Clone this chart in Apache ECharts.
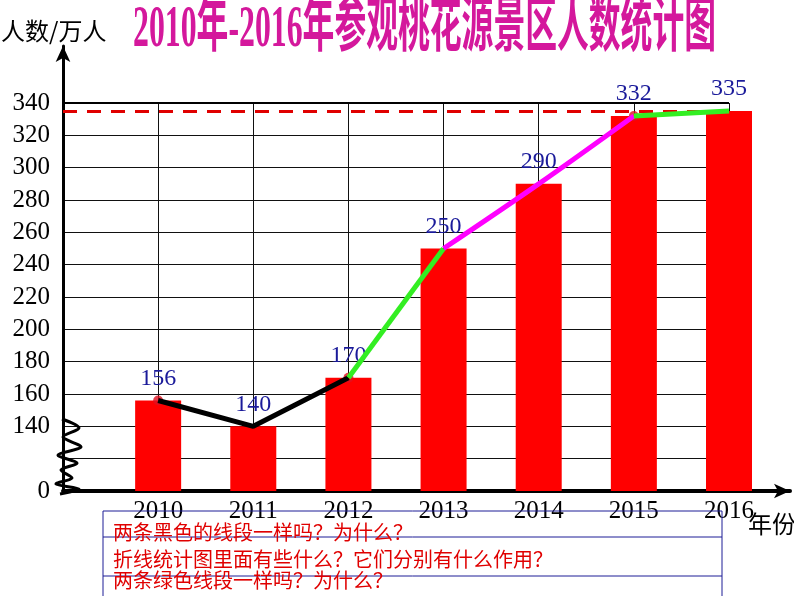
<!DOCTYPE html>
<html>
<head>
<meta charset="utf-8">
<script src="https://cdn.jsdelivr.net/npm/echarts@6/dist/echarts.min.js"></script>
<style>
  html, body { margin: 0; padding: 0; background: #fff; }
  #chart { width: 794px; height: 596px; }
</style>
</head>
<body>
<div id="chart"></div>
<script>
// 数据
var years = ['2010', '2011', '2012', '2013', '2014', '2015', '2016'];
var visitors = [156, 140, 170, 250, 290, 332, 335];
var yTicks = [100, 120, 140, 160, 180, 200, 220, 240, 260, 280, 300, 320, 340];
var refLine = 335;
var questions = [
    '两条黑色的线段一样吗？为什么？',
    '折线统计图里面有些什么？它们分别有什么作用？',
    '两条绿色线段一样吗？为什么？'
];

var dom = document.getElementById('chart');
var myChart = echarts.init(dom, null, { renderer: 'canvas' });

// 第一个空类目用来把 2010 往右挪
var cats = [''].concat(years);
var padded = ['-'].concat(visitors);
var axisBase = yTicks[0];

// 柱子从断轴处（显示为0）开始画：透明底座 + 可见部分叠加
var baseBar = padded.map(function (v) { return v === '-' ? '-' : axisBase; });
var topBar = padded.map(function (v) { return v === '-' ? '-' : v - axisBase; });

// 只保留 a..b 之间的点，其余断开
function seg(a, b) {
    return padded.map(function (v, i) {
        return (i >= a + 1 && i <= b + 1) ? v : '-';
    });
}
var dots = padded.map(function (v, i) {
    return [1, 3, 6].indexOf(i) >= 0 ? v : '-';
});

var serif = '"Liberation Serif", "DejaVu Serif", serif';
var cjk = '"Noto Sans CJK SC", sans-serif';
var boxBlue = '#1c1c96';

var option = {
    animation: false,
    grid: [
        { left: 63, right: 65, top: 103, bottom: 105 },
        { left: 63, right: 4, top: 46, bottom: 105 }
    ],
    xAxis: [{
        type: 'category',
        gridIndex: 0,
        data: cats,
        boundaryGap: false,
        axisLine: { show: false },
        axisTick: { show: false },
        axisLabel: {
            fontFamily: serif,
            fontSize: 25,
            color: '#000',
            margin: 8,
            interval: 0
        },
        splitLine: { show: true, lineStyle: { color: '#111', width: 1 } }
    }, {
        type: 'value',
        gridIndex: 1,
        min: 0,
        max: 1,
        axisLine: {
            show: true,
            onZero: false,
            symbol: ['none', 'arrow'],
            symbolSize: [11, 16],
            lineStyle: { color: '#000', width: 4 }
        },
        axisTick: { show: false },
        axisLabel: { show: false },
        splitLine: { show: false }
    }],
    yAxis: [{
        type: 'value',
        gridIndex: 0,
        min: 100,
        max: 340,
        interval: 20,
        axisLine: { show: false },
        axisTick: { show: false },
        axisLabel: {
            fontFamily: serif,
            fontSize: 25,
            color: '#000',
            margin: 13,
            formatter: function (v) {
                if (v === yTicks[0]) return '0';
                if (v === yTicks[1]) return '';
                return v;
            }
        },
        splitLine: { show: true, lineStyle: { color: '#111', width: 1 } }
    }, {
        type: 'value',
        gridIndex: 1,
        min: 0,
        max: 1,
        axisLine: {
            show: true,
            onZero: false,
            symbol: ['none', 'arrow'],
            symbolSize: [11, 16],
            lineStyle: { color: '#000', width: 3 }
        },
        axisTick: { show: false },
        axisLabel: { show: false },
        splitLine: { show: false }
    }],
    series: [{
        type: 'bar',
        stack: 'v',
        data: baseBar,
        barWidth: 46,
        clip: false,
        silent: true,
        itemStyle: { color: 'rgba(0,0,0,0)' },
        markLine: {
            silent: true,
            symbol: 'none',
            label: { show: false },
            data: [
                { yAxis: yTicks[yTicks.length - 1], lineStyle: { color: '#000', width: 2, type: 'solid' } },
                { yAxis: refLine, lineStyle: { color: '#e00000', width: 3, type: [14, 10] } }
            ]
        }
    }, {
        type: 'bar',
        stack: 'v',
        data: topBar,
        barWidth: 46,
        clip: false,
        itemStyle: { color: '#ff0000' },
        label: {
            show: true,
            position: 'top',
            distance: 10,
            fontFamily: serif,
            fontSize: 24,
            color: '#1a1a9a',
            formatter: function (p) { return padded[p.dataIndex]; }
        }
    }, {
        type: 'line',
        data: seg(0, 2),
        symbol: 'none',
        lineStyle: { color: '#000', width: 5 },
        z: 5
    }, {
        type: 'line',
        data: seg(2, 3),
        symbol: 'none',
        lineStyle: { color: '#33ee22', width: 5 },
        z: 5
    }, {
        type: 'line',
        data: seg(3, 5),
        symbol: 'none',
        smooth: 0.35,
        lineStyle: { color: '#ff00ff', width: 5 },
        z: 5
    }, {
        type: 'line',
        data: seg(5, 6),
        symbol: 'none',
        lineStyle: { color: '#33ee22', width: 5 },
        z: 5
    }, {
        type: 'scatter',
        data: dots,
        symbolSize: 10,
        itemStyle: { color: '#e01020' },
        z: 4
    }],
    graphic: [{
        type: 'text',
        x: 133,
        y: 30,
        scaleX: 0.53,
        style: {
            text: '2010年-2016年参观桃花源景区人数统计图',
            font: 'bold 60px "Liberation Serif", ' + cjk,
            fill: '#d4189c',
            verticalAlign: 'middle',
            shadowColor: '#4a0636',
            shadowOffsetX: 3,
            shadowOffsetY: 3
        }
    }, {
        type: 'text',
        x: 1,
        y: 31,
        style: {
            text: '人数/万人',
            font: '24px ' + cjk,
            fill: '#000',
            verticalAlign: 'middle'
        }
    }, {
        type: 'text',
        x: 748,
        y: 524,
        style: {
            text: '年份',
            font: '24px ' + cjk,
            fill: '#000',
            verticalAlign: 'middle'
        }
    }, {
        // 断轴的折线符号
        type: 'polyline',
        shape: {
            points: [[62, 419], [79, 428], [63, 437], [81, 447], [58, 455], [77, 463],
                     [61, 470], [72, 478], [56, 484], [79, 489], [60, 494]],
            smooth: 0.3
        },
        style: { stroke: '#000', lineWidth: 3, fill: null },
        z: 20
    }, {
        type: 'rect',
        shape: { x: 103, y: 511, width: 619, height: 100 },
        style: { stroke: boxBlue, lineWidth: 1, fill: null },
        z: 30
    }, {
        type: 'line',
        shape: { x1: 103, y1: 537, x2: 722, y2: 537 },
        style: { stroke: boxBlue, lineWidth: 1 },
        z: 30
    }, {
        type: 'line',
        shape: { x1: 103, y1: 576, x2: 722, y2: 576 },
        style: { stroke: boxBlue, lineWidth: 1 },
        z: 30
    }, {
        type: 'text',
        x: 113,
        y: 532,
        style: { text: questions[0], font: '20px ' + cjk, fill: '#e00000', verticalAlign: 'middle' },
        z: 31
    }, {
        type: 'text',
        x: 113,
        y: 559,
        style: { text: questions[1], font: '20px ' + cjk, fill: '#e00000', verticalAlign: 'middle' },
        z: 31
    }, {
        type: 'text',
        x: 113,
        y: 580,
        style: { text: questions[2], font: '20px ' + cjk, fill: '#e00000', verticalAlign: 'middle' },
        z: 31
    }]
};

option && myChart.setOption(option);
</script>
</body>
</html>
